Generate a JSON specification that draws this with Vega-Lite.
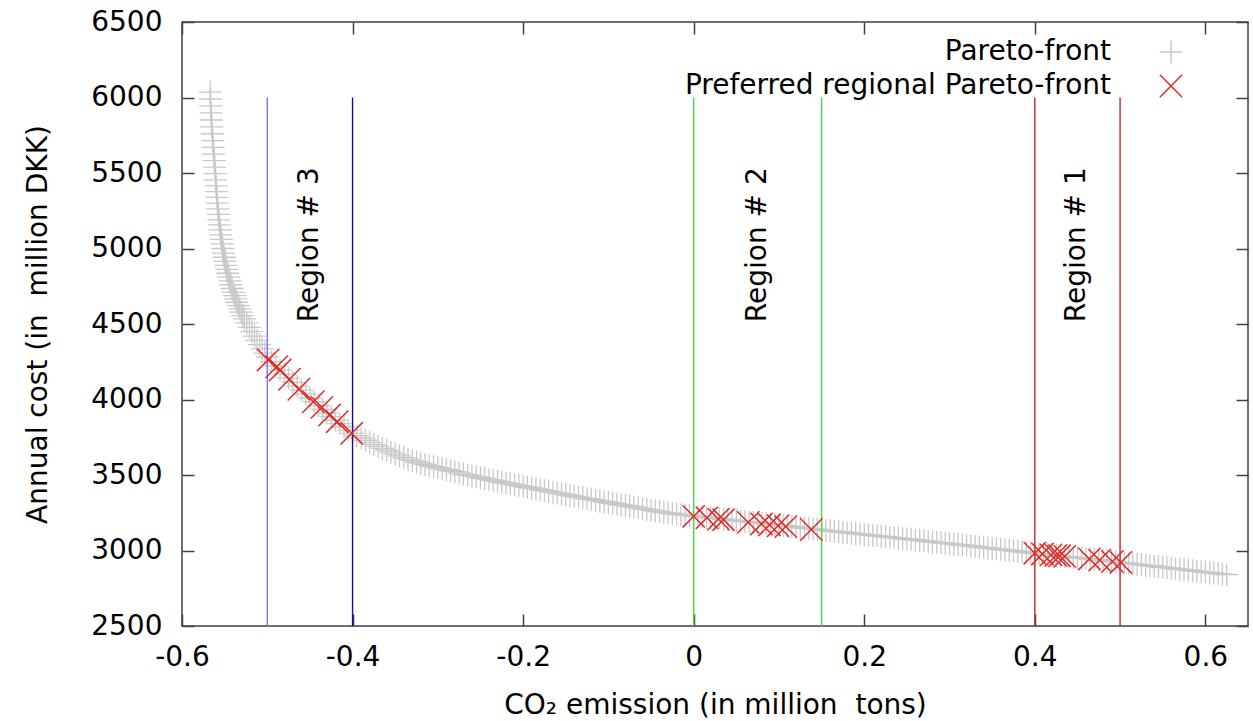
{
  "$schema": "https://vega.github.io/schema/vega-lite/v6.json",
  "autosize": {"type": "none"},
  "padding": {"left": 182, "top": 22, "right": 5, "bottom": 95},
  "width": 1066,
  "height": 604,
  "background": "white",
  "config": {
    "view": {"stroke": "#404040", "strokeWidth": 1.5},
    "font": "DejaVu Sans",
    "axis": {"labelFont": "DejaVu Sans", "labelFontSize": 28, "labelColor": "#000000", "labelFlush": false, "titleFont": "DejaVu Sans", "titleFontSize": 28, "titleFontWeight": "normal", "titleColor": "#000000", "tickColor": "#404040", "tickWidth": 1.5, "domain": false, "grid": false},
    "legend": {"orient": "none", "legendX": 975, "legendY": 16, "labelAlign": "right", "labelOffset": -74, "labelFont": "DejaVu Sans", "labelFontSize": 28, "labelColor": "#000000", "labelLimit": 700, "symbolSize": 500, "symbolStrokeWidth": 1.5, "rowPadding": 4, "padding": 0}
  },
  "datasets": {
    "pareto": [
      {"x":-0.5670,"y":6036},{"x":-0.5667,"y":5990},{"x":-0.5663,"y":5945},{"x":-0.5660,"y":5898},{"x":-0.5655,"y":5851},{"x":-0.5650,"y":5805},{"x":-0.5645,"y":5760},{"x":-0.5640,"y":5715},{"x":-0.5634,"y":5670},{"x":-0.5628,"y":5625},{"x":-0.5622,"y":5582},{"x":-0.5616,"y":5539},{"x":-0.5610,"y":5496},{"x":-0.5605,"y":5454},{"x":-0.5600,"y":5415},{"x":-0.5595,"y":5376},{"x":-0.5590,"y":5338},{"x":-0.5585,"y":5300},{"x":-0.5580,"y":5263},{"x":-0.5574,"y":5226},{"x":-0.5567,"y":5189},{"x":-0.5560,"y":5156},{"x":-0.5553,"y":5123},{"x":-0.5546,"y":5090},{"x":-0.5538,"y":5060},{"x":-0.5530,"y":5030},{"x":-0.5522,"y":5000},{"x":-0.5514,"y":4970},{"x":-0.5505,"y":4942},{"x":-0.5495,"y":4915},{"x":-0.5485,"y":4888},{"x":-0.5474,"y":4862},{"x":-0.5463,"y":4836},{"x":-0.5451,"y":4810},{"x":-0.5439,"y":4785},{"x":-0.5427,"y":4760},{"x":-0.5414,"y":4735},{"x":-0.5400,"y":4710},{"x":-0.5386,"y":4688},{"x":-0.5371,"y":4666},{"x":-0.5356,"y":4644},{"x":-0.5340,"y":4622},{"x":-0.5323,"y":4600},{"x":-0.5305,"y":4578},{"x":-0.5287,"y":4556},{"x":-0.5268,"y":4534},{"x":-0.5240,"y":4507},{"x":-0.5210,"y":4478},{"x":-0.5180,"y":4449},{"x":-0.5150,"y":4420},{"x":-0.5120,"y":4391},{"x":-0.5090,"y":4363},{"x":-0.5060,"y":4335},{"x":-0.5030,"y":4307},{"x":-0.5000,"y":4280},
      {"x":-0.495,"y":4250},{"x":-0.490,"y":4222},{"x":-0.485,"y":4195},{"x":-0.480,"y":4168},{"x":-0.475,"y":4141},{"x":-0.470,"y":4114},{"x":-0.465,"y":4088},{"x":-0.460,"y":4062},{"x":-0.455,"y":4036},{"x":-0.450,"y":4010},{"x":-0.445,"y":3985},{"x":-0.440,"y":3960},{"x":-0.435,"y":3935},{"x":-0.430,"y":3910},{"x":-0.425,"y":3886},{"x":-0.420,"y":3862},{"x":-0.415,"y":3840},{"x":-0.410,"y":3818},{"x":-0.405,"y":3797},{"x":-0.400,"y":3776},
      {"x":-0.395,"y":3760},{"x":-0.390,"y":3745},{"x":-0.385,"y":3730},{"x":-0.380,"y":3716},{"x":-0.375,"y":3702},{"x":-0.370,"y":3689},{"x":-0.365,"y":3676},{"x":-0.360,"y":3664},{"x":-0.355,"y":3651},{"x":-0.350,"y":3638},{"x":-0.345,"y":3626},{"x":-0.340,"y":3615},{"x":-0.335,"y":3605},{"x":-0.330,"y":3595},{"x":-0.325,"y":3586},{"x":-0.320,"y":3578},{"x":-0.315,"y":3570},{"x":-0.310,"y":3562},{"x":-0.305,"y":3555},{"x":-0.300,"y":3548},
      {"x":-0.295,"y":3541},{"x":-0.290,"y":3535},{"x":-0.285,"y":3528},{"x":-0.280,"y":3522},{"x":-0.275,"y":3514},{"x":-0.270,"y":3506},{"x":-0.265,"y":3500},{"x":-0.260,"y":3494},{"x":-0.255,"y":3488},{"x":-0.250,"y":3482},{"x":-0.245,"y":3476},{"x":-0.240,"y":3470},{"x":-0.235,"y":3464},{"x":-0.230,"y":3458},{"x":-0.225,"y":3452},{"x":-0.220,"y":3447},{"x":-0.215,"y":3441},{"x":-0.210,"y":3436},{"x":-0.205,"y":3430},{"x":-0.200,"y":3425},
      {"x":-0.195,"y":3419},{"x":-0.190,"y":3414},{"x":-0.185,"y":3408},{"x":-0.180,"y":3403},{"x":-0.175,"y":3397},{"x":-0.170,"y":3392},{"x":-0.165,"y":3386},{"x":-0.160,"y":3381},{"x":-0.155,"y":3375},{"x":-0.150,"y":3370},{"x":-0.145,"y":3364},{"x":-0.140,"y":3359},{"x":-0.135,"y":3354},{"x":-0.130,"y":3349},{"x":-0.125,"y":3344},{"x":-0.120,"y":3339},{"x":-0.115,"y":3333},{"x":-0.110,"y":3328},{"x":-0.105,"y":3323},{"x":-0.100,"y":3318},
      {"x":-0.095,"y":3313},{"x":-0.090,"y":3308},{"x":-0.085,"y":3303},{"x":-0.080,"y":3298},{"x":-0.075,"y":3293},{"x":-0.070,"y":3288},{"x":-0.065,"y":3282},{"x":-0.060,"y":3277},{"x":-0.055,"y":3272},{"x":-0.050,"y":3267},{"x":-0.045,"y":3262},{"x":-0.040,"y":3258},{"x":-0.035,"y":3253},{"x":-0.030,"y":3249},{"x":-0.025,"y":3245},{"x":-0.020,"y":3241},{"x":-0.015,"y":3237},{"x":-0.010,"y":3234},{"x":-0.005,"y":3231},{"x":0.000,"y":3228},
      {"x":0.005,"y":3225},{"x":0.010,"y":3222},{"x":0.015,"y":3219},{"x":0.020,"y":3216},{"x":0.025,"y":3213},{"x":0.030,"y":3210},{"x":0.035,"y":3207},{"x":0.040,"y":3204},{"x":0.045,"y":3201},{"x":0.050,"y":3198},{"x":0.055,"y":3195},{"x":0.060,"y":3192},{"x":0.065,"y":3189},{"x":0.070,"y":3186},{"x":0.075,"y":3183},{"x":0.080,"y":3180},{"x":0.085,"y":3177},{"x":0.090,"y":3174},{"x":0.095,"y":3171},{"x":0.100,"y":3168},
      {"x":0.105,"y":3165},{"x":0.110,"y":3162},{"x":0.115,"y":3159},{"x":0.120,"y":3156},{"x":0.125,"y":3152},{"x":0.130,"y":3149},{"x":0.135,"y":3146},{"x":0.140,"y":3143},{"x":0.145,"y":3139},{"x":0.150,"y":3136},{"x":0.155,"y":3133},{"x":0.160,"y":3130},{"x":0.165,"y":3127},{"x":0.170,"y":3124},{"x":0.175,"y":3121},{"x":0.180,"y":3118},{"x":0.185,"y":3115},{"x":0.190,"y":3112},{"x":0.195,"y":3109},{"x":0.200,"y":3106},
      {"x":0.205,"y":3103},{"x":0.210,"y":3100},{"x":0.215,"y":3097},{"x":0.220,"y":3094},{"x":0.225,"y":3091},{"x":0.230,"y":3088},{"x":0.235,"y":3085},{"x":0.240,"y":3082},{"x":0.245,"y":3079},{"x":0.250,"y":3076},{"x":0.255,"y":3073},{"x":0.260,"y":3070},{"x":0.265,"y":3067},{"x":0.270,"y":3064},{"x":0.275,"y":3060},{"x":0.280,"y":3057},{"x":0.285,"y":3054},{"x":0.290,"y":3051},{"x":0.295,"y":3048},{"x":0.300,"y":3045},
      {"x":0.305,"y":3042},{"x":0.310,"y":3039},{"x":0.315,"y":3036},{"x":0.320,"y":3033},{"x":0.325,"y":3030},{"x":0.330,"y":3027},{"x":0.335,"y":3023},{"x":0.340,"y":3020},{"x":0.345,"y":3017},{"x":0.350,"y":3014},{"x":0.355,"y":3011},{"x":0.360,"y":3008},{"x":0.365,"y":3004},{"x":0.370,"y":3001},{"x":0.375,"y":2998},{"x":0.380,"y":2995},{"x":0.385,"y":2991},{"x":0.390,"y":2988},{"x":0.395,"y":2985},{"x":0.400,"y":2982},
      {"x":0.405,"y":2979},{"x":0.410,"y":2976},{"x":0.415,"y":2973},{"x":0.420,"y":2970},{"x":0.425,"y":2967},{"x":0.430,"y":2964},{"x":0.435,"y":2961},{"x":0.440,"y":2958},{"x":0.445,"y":2955},{"x":0.450,"y":2952},{"x":0.455,"y":2949},{"x":0.460,"y":2946},{"x":0.465,"y":2943},{"x":0.470,"y":2940},{"x":0.475,"y":2937},{"x":0.480,"y":2934},{"x":0.485,"y":2931},{"x":0.490,"y":2928},{"x":0.495,"y":2925},{"x":0.500,"y":2922},
      {"x":0.505,"y":2918},{"x":0.510,"y":2915},{"x":0.515,"y":2912},{"x":0.520,"y":2909},{"x":0.525,"y":2905},{"x":0.530,"y":2902},{"x":0.535,"y":2899},{"x":0.540,"y":2896},{"x":0.545,"y":2892},{"x":0.550,"y":2889},{"x":0.555,"y":2886},{"x":0.560,"y":2883},{"x":0.565,"y":2879},{"x":0.570,"y":2876},{"x":0.575,"y":2873},{"x":0.580,"y":2870},{"x":0.585,"y":2866},{"x":0.590,"y":2863},{"x":0.595,"y":2860},{"x":0.600,"y":2857},
      {"x":0.605,"y":2853},{"x":0.610,"y":2850},{"x":0.615,"y":2847},{"x":0.620,"y":2843},{"x":0.625,"y":2840}
    ],
    "preferred": [
      {"x":-0.499,"y":4262},{"x":-0.489,"y":4217},{"x":-0.485,"y":4195},{"x":-0.474,"y":4134},{"x":-0.463,"y":4068},{"x":-0.446,"y":3985},{"x":-0.436,"y":3948},{"x":-0.427,"y":3897},{"x":-0.418,"y":3853},{"x":-0.401,"y":3776},
      {"x":0.000,"y":3226},{"x":0.0155,"y":3216},{"x":0.029,"y":3208},{"x":0.035,"y":3204},{"x":0.064,"y":3186},{"x":0.0795,"y":3176},{"x":0.089,"y":3170},{"x":0.099,"y":3164},{"x":0.108,"y":3158},{"x":0.138,"y":3139},
      {"x":0.400,"y":2982},{"x":0.409,"y":2977},{"x":0.419,"y":2971},{"x":0.425,"y":2967},{"x":0.429,"y":2965},{"x":0.435,"y":2961},{"x":0.464,"y":2944},{"x":0.476,"y":2936},{"x":0.491,"y":2927},{"x":0.501,"y":2921}
    ],
    "regions": [
      {"x":-0.5,"y":2500,"y2":6000,"edge":"Region 3 lower"},
      {"x":-0.4,"y":2500,"y2":6000,"edge":"Region 3 upper"},
      {"x":0.0,"y":2500,"y2":6000,"edge":"Region 2 lower"},
      {"x":0.15,"y":2500,"y2":6000,"edge":"Region 2 upper"},
      {"x":0.4,"y":2500,"y2":6000,"edge":"Region 1 lower"},
      {"x":0.5,"y":2500,"y2":6000,"edge":"Region 1 upper"}
    ],
    "labels": [
      {"x":-0.45,"y":5025,"text":"Region # 3"},
      {"x":0.075,"y":5025,"text":"Region # 2"},
      {"x":0.45,"y":5025,"text":"Region # 1"}
    ]
  },
  "layer": [
    {
      "data": {"name": "pareto"},
      "transform": [{"calculate": "'Pareto-front'", "as": "series"}],
      "mark": {"type": "point", "filled": false, "opacity": 1, "strokeWidth": 1.3, "size": 530},
      "encoding": {
        "x": {"field": "x", "type": "quantitative", "scale": {"domain": [-0.6, 0.65], "nice": false, "zero": false},
          "axis": {"orient": "bottom", "values": [-0.6, -0.4, -0.2, 0, 0.2, 0.4, 0.6], "labelExpr": "datum.value == 0 ? '0' : (datum.value < 0 ? '-' + format(-datum.value, '.1f') : format(datum.value, '.1f'))", "labelFlush": false, "tickSize": -12, "labelPadding": 29, "title": "CO₂ emission (in million\u00a0 tons)", "titlePadding": 20}},
        "y": {"field": "y", "type": "quantitative", "scale": {"domain": [2500, 6500], "nice": false, "zero": false},
          "axis": {"orient": "left", "values": [2500, 3000, 3500, 4000, 4500, 5000, 5500, 6000, 6500], "format": "d", "labelFlush": false, "tickSize": -12, "labelPadding": 32, "title": "Annual cost (in\u00a0 million DKK)", "titlePadding": 38}},
        "color": {"field": "series", "type": "nominal", "scale": {"domain": ["Pareto-front", "Preferred regional Pareto-front"], "range": ["#c8c8c8", "#e02a2a"]}, "legend": {"title": null}},
        "shape": {"field": "series", "type": "nominal", "scale": {"domain": ["Pareto-front", "Preferred regional Pareto-front"], "range": ["M-1,0H1M0,-1V1", "M-1,-1L1,1M-1,1L1,-1"]}, "legend": {"title": null}}
      }
    },
    {
      "data": {"name": "regions"},
      "mark": {"type": "rule", "strokeWidth": 1.4},
      "encoding": {
        "x": {"field": "x", "type": "quantitative", "axis": {"orient": "top", "values": [-0.6, -0.4, -0.2, 0, 0.2, 0.4, 0.6], "labels": false, "tickSize": -12, "title": null}},
        "y": {"field": "y", "type": "quantitative", "axis": {"orient": "right", "values": [2500, 3000, 3500, 4000, 4500, 5000, 5500, 6000, 6500], "labels": false, "tickSize": -12, "title": null}},
        "y2": {"field": "y2"},
        "stroke": {"field": "edge", "type": "nominal", "scale": {"domain": ["Region 3 lower", "Region 3 upper", "Region 2 lower", "Region 2 upper", "Region 1 lower", "Region 1 upper"], "range": ["#7878e8", "#10109a", "#44dd44", "#44dd44", "#c42828", "#c42828"]}, "legend": null}
      }
    },
    {
      "data": {"name": "preferred"},
      "transform": [{"calculate": "'Preferred regional Pareto-front'", "as": "series"}],
      "mark": {"type": "point", "filled": false, "opacity": 1, "strokeWidth": 1.5, "size": 500},
      "encoding": {
        "x": {"field": "x", "type": "quantitative", "axis": null},
        "y": {"field": "y", "type": "quantitative", "axis": null},
        "color": {"field": "series", "type": "nominal", "legend": {"title": null}},
        "shape": {"field": "series", "type": "nominal", "legend": {"title": null}}
      }
    },
    {
      "data": {"name": "labels"},
      "mark": {"type": "text", "angle": 270, "fontSize": 28, "font": "DejaVu Sans", "align": "center", "baseline": "middle", "color": "#000000"},
      "encoding": {
        "x": {"field": "x", "type": "quantitative", "axis": null},
        "y": {"field": "y", "type": "quantitative", "axis": null},
        "text": {"field": "text"}
      }
    }
  ],
  "resolve": {"axis": {"x": "independent", "y": "independent"}}
}
